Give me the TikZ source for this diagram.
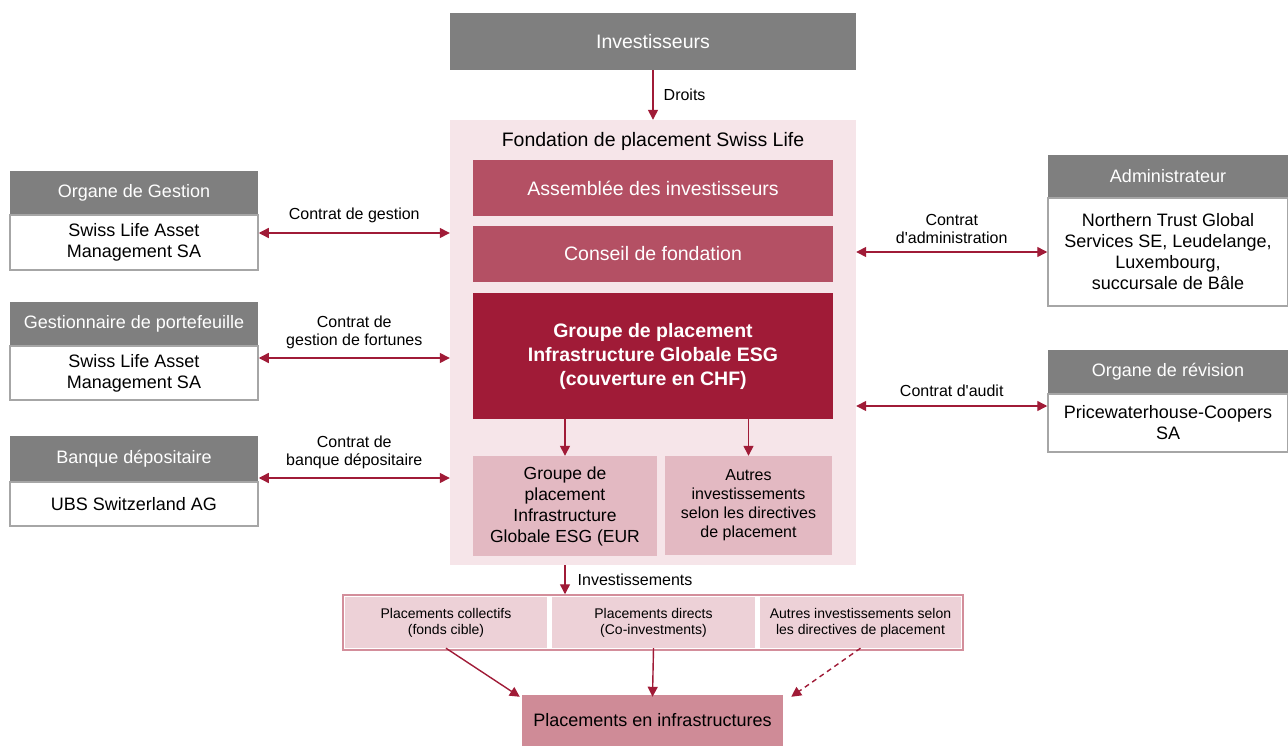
\documentclass[tikz,border=0pt]{standalone}
\usepackage{fontspec}
\setmainfont{Liberation Sans}
\usetikzlibrary{arrows.meta}
\definecolor{headgray}{HTML}{7F7F7F}
\definecolor{boxgray}{HTML}{A6A6A6}
\definecolor{darkred}{HTML}{A01B37}
\definecolor{midred}{HTML}{B45064}
\definecolor{lightred}{HTML}{E3B9C2}
\definecolor{fondbg}{HTML}{F6E5E9}
\definecolor{cellpink}{HTML}{EDD1D7}
\definecolor{rowborder}{HTML}{D38E9B}
\definecolor{infrapink}{HTML}{CF8B97}
\begin{document}
\begin{tikzpicture}[x=1pt,y=-1pt,
        every node/.style={inner sep=0pt,align=center},
        head/.style={fill=headgray,text=white,font=\fontsize{18}{21}\selectfont,minimum height=44pt},
        body/.style={draw=boxgray,fill=white,line width=1.5pt,font=\fontsize{18}{21}\selectfont},
        board/.style={fill=midred,text=white,font=\fontsize{19.5}{23}\selectfont,minimum width=360pt,minimum height=56pt},
        sub/.style={fill=lightred,text=black},
        cell/.style={fill=cellpink,minimum height=51pt,font=\fontsize{14}{16}\selectfont},
        lbl/.style={font=\fontsize{16}{18}\selectfont},
        arr/.style={draw=darkred,line width=1.4pt,-{Triangle[length=10pt,width=10pt]}},
        both/.style={arr,{Triangle[length=10pt,width=10pt]}-{Triangle[length=10pt,width=10pt]}}]

    \useasboundingbox (0,0) rectangle (1288,746);

    \node[head,minimum width=406pt,minimum height=57pt,font=\fontsize{19.5}{23}\selectfont] (inv) at (653,41.5) {Investisseurs};

    \node[fill=fondbg,minimum width=406pt,minimum height=445pt] (fond) at (653,342.5) {};
    \node[font=\fontsize{19.5}{23}\selectfont] (titre) at (653,141) {Fondation de placement Swiss Life};
    \node[board] (ass) at (653,188) {Assemblée des investisseurs};
    \node[board] (cons) at (653,254) {Conseil de fondation};
    \node[board,fill=darkred,minimum height=126pt,font=\bfseries\fontsize{19.5}{24}\selectfont] (chf) at (653,356)
        {Groupe de placement\\Infrastructure Globale ESG\\(couverture en CHF)};
    \node[sub,minimum width=184pt,minimum height=100pt,font=\fontsize{17.5}{21}\selectfont] (eur) at (565,506)
        {Groupe de\\placement\\Infrastructure\\Globale ESG (EUR};
    \node[sub,minimum width=167pt,minimum height=99pt,font=\fontsize{16}{19}\selectfont] (autres) at (748.5,505.5)
        {Autres\\investissements\\selon les directives\\de placement};

    \node[head,minimum width=248pt] (h1) at (134,193) {Organe de Gestion};
    \node[body,minimum width=248pt,minimum height=55pt] (b1) at (134,242.5) {Swiss Life Asset\\Management SA};
    \node[head,minimum width=248pt] (h2) at (134,324) {Gestionnaire de portefeuille};
    \node[body,minimum width=248pt,minimum height=54pt] (b2) at (134,373) {Swiss Life Asset\\Management SA};
    \node[head,minimum width=248pt,minimum height=46pt] (h3) at (134,459) {Banque dépositaire};
    \node[body,minimum width=248pt,minimum height=44pt] (b3) at (134,504) {UBS Switzerland AG};

    \node[head,minimum width=240pt,minimum height=43pt] (h4) at (1168,176.5) {Administrateur};
    \node[body,minimum width=240pt,minimum height=108pt] (b4) at (1168,252)
        {Northern Trust Global\\Services SE, Leudelange,\\Luxembourg,\\succursale de Bâle};
    \node[head,minimum width=240pt] (h5) at (1168,372) {Organe de révision};
    \node[body,minimum width=240pt,minimum height=58pt] (b5) at (1168,423) {Pricewaterhouse-Coopers\\SA};

    \node[draw=rowborder,line width=1.5pt,fill=white,minimum width=620pt,minimum height=55pt] (row) at (653,622.5) {};
    \node[cell,minimum width=202pt] (c1) at (446,622.5) {Placements collectifs\\(fonds cible)};
    \node[cell,minimum width=203pt] (c2) at (653.5,622.5) {Placements directs\\(Co-investments)};
    \node[cell,minimum width=201pt] (c3) at (860.5,622.5) {Autres investissements selon\\les directives de placement};
    \node[fill=infrapink,minimum width=261pt,minimum height=51pt,font=\fontsize{18}{21}\selectfont] (infra) at (652.5,720.5)
        {Placements en infrastructures};

    \coordinate (y1) at (0,233);
    \coordinate (y2) at (0,358);
    \coordinate (y3) at (0,478);
    \coordinate (y4) at (0,252);
    \coordinate (y5) at (0,406);

    \draw[arr] (inv.south) -- node[right=10pt,lbl] {Droits} (fond.north);
    \draw[both] (b1.east |- y1) -- node[above=9pt,lbl] {Contrat de gestion} (fond.west |- y1);
    \draw[both] (b2.east |- y2) -- node[above=8pt,lbl] {Contrat de\\gestion de fortunes} (fond.west |- y2);
    \draw[both] (b3.east |- y3) -- node[above=8pt,lbl] {Contrat de\\banque dépositaire} (fond.west |- y3);
    \draw[both] (fond.east |- y4) -- node[above=8pt,lbl] {Contrat\\d\textquotesingle administration} (b4.west |- y4);
    \draw[both] (fond.east |- y5) -- node[above=9pt,lbl] {Contrat d\textquotesingle audit} (b5.west |- y5);
    \draw[arr] (eur.north |- chf.south) -- (eur.north);
    \draw[arr] (autres.north |- chf.south) -- (autres.north);
    \draw[arr] (eur.south |- fond.south) -- node[right=12pt,lbl] {Investissements} (eur.south |- row.north);
    \draw[arr] (c1.south) -- ([xshift=-2pt,yshift=-2pt]infra.north west);
    \draw[arr] (c2.south) -- ([yshift=-2pt]infra.north);
    \draw[arr,dash pattern=on 5pt off 4pt] (c3.south) -- ([xshift=8pt,yshift=-2pt]infra.north east);

\end{tikzpicture}
\end{document}
